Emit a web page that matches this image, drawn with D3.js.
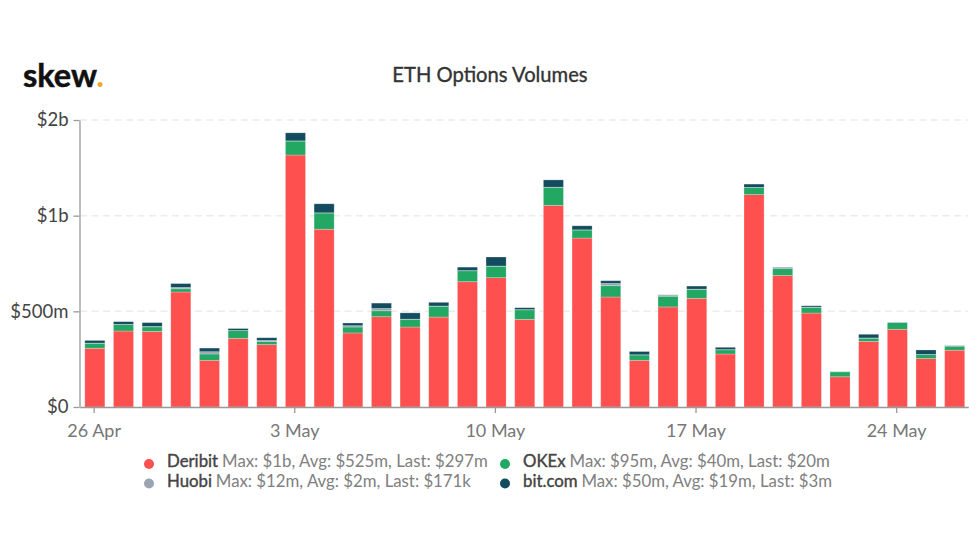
<!DOCTYPE html>
<html>
	<head>
		<meta charset="utf-8">
		<title>ETH Options Volumes</title>
		<script src="https://d3js.org/d3.v7.min.js"></script>
		<style>
			body { margin: 0; background: #fff; }
			text { font-family: Lato, sans-serif; }
		</style>
	</head>
	<body>

		<svg width="980" height="547"></svg>

		<script>
			// values in $m
			var days = ["26 Apr", "27 Apr", "28 Apr", "29 Apr", "30 Apr", "1 May", "2 May", "3 May", "4 May", "5 May", "6 May",
				"7 May", "8 May", "9 May", "10 May", "11 May", "12 May", "13 May", "14 May", "15 May", "16 May",
				"17 May", "18 May", "19 May", "20 May", "21 May", "22 May", "23 May", "24 May", "25 May", "26 May"];
			var deribit = [307, 397, 395, 601, 244, 359, 326, 1317, 929, 387, 472, 418, 470, 655, 676, 458, 1054, 883, 575, 244, 523, 568, 277, 1110, 688, 491, 158, 343, 406, 253, 297];
			var okex = [26, 34, 24, 17, 33, 40, 17, 73, 85, 31, 31, 40, 57, 57, 60, 50, 94, 42, 59, 28, 56, 47, 22, 37, 35, 30, 26, 17, 35, 21, 20];
			var huobi = [1, 1, 2, 7, 12, 1, 5, 1, 1, 7, 12, 1, 1, 1, 1, 1, 1, 1, 12, 1, 5, 1, 1, 1, 2, 1, 1, 1, 1, 1, 0.171];
			var bitcom = [14, 14, 20, 20, 19, 10, 14, 42, 47, 14, 28, 33, 19, 18, 47, 10, 38, 21, 14, 17, 2, 16, 12, 17, 4, 7, 1, 19, 1, 23, 3];

			var seriesNames = ["Deribit", "OKEx", "Huobi", "bit.com"];
			var seriesColors = ["#ff5050", "#22a863", "#9aa5b1", "#134b5f"];
			var legendStats = ["Max: $1b, Avg: $525m, Last: $297m", "Max: $95m, Avg: $40m, Last: $20m", "Max: $12m, Avg: $2m, Last: $171k", "Max: $50m, Avg: $19m, Last: $3m"];

			var xTicks = ["26 Apr", "3 May", "10 May", "17 May", "24 May"];
			var yTicks = [0, 500, 1000, 1500];
			var yTickLabels = ["$0", "$500m", "$1b", "$2b"]; // the 1.5b tick really is rounded up like this

			var svg = d3.select("svg");

			var rows = days.map(function(d, i) {
				return { day: d, Deribit: deribit[i], OKEx: okex[i], Huobi: huobi[i], "bit.com": bitcom[i] };
			});

			var x = d3.scaleBand().domain(days).range([80.5, 969]).paddingInner(0.3).paddingOuter(0.15);
			var y = d3.scaleLinear().domain([0, 1500]).range([407, 120]);
			var z = d3.scaleOrdinal().domain(seriesNames).range(seriesColors);

			// grid
			svg.append("g").selectAll("line")
				.data(yTicks.slice(1))
				.enter().append("line")
				.attr("x1", 80).attr("x2", 968)
				.attr("y1", function(d) { return y(d); })
				.attr("y2", function(d) { return y(d); })
				.attr("stroke", "#ececec")
				.attr("stroke-width", 1.5)
				.attr("stroke-dasharray", "7,4.5");

			// bars
			svg.append("g").selectAll("g")
				.data(d3.stack().keys(seriesNames)(rows))
				.enter().append("g")
				.attr("fill", function(d) { return z(d.key); })
				.selectAll("rect")
				.data(function(d) { return d; })
				.enter().append("rect")
				.attr("x", function(d) { return x(d.data.day); })
				.attr("width", x.bandwidth())
				.attr("y", function(d) { return y(d[1]); })
				.attr("height", function(d) { return y(d[0]) - y(d[1]); })
				.attr("stroke", "#fff")
				.attr("stroke-opacity", 0.3)
				.attr("stroke-width", 0.8);

			// axes
			var yAxis = svg.append("g")
				.attr("transform", "translate(79.5,0)")
				.call(d3.axisLeft(y).tickValues(yTicks).tickSize(6).tickSizeOuter(0)
					.tickFormat(function(d, i) { return yTickLabels[i]; }));
			yAxis.selectAll("text").attr("font-size", 18.5).attr("fill", "#444").attr("x", -11).style("font-family", "Lato");

			var xAxis = svg.append("g")
				.attr("transform", "translate(-0.7,407)")
				.call(d3.axisBottom(x).tickValues(xTicks).tickSize(6).tickSizeOuter(0));
			xAxis.selectAll("text").attr("font-size", 18).attr("fill", "#777").attr("y", 17).style("font-family", "Lato");

			svg.selectAll(".domain, .tick line").attr("stroke", "#999").attr("stroke-width", 1.3);

			// logo and title
			var logo = svg.append("text").attr("x", 23).attr("y", 87)
				.attr("font-size", 32.5).attr("font-weight", 700).attr("fill", "#111")
				.attr("stroke", "#111").attr("stroke-width", 0.5);
			logo.append("tspan").text("skew");
			logo.append("tspan").attr("fill", "#f0a92e").attr("stroke", "none").text(".");

			svg.append("text").attr("x", 490).attr("y", 82)
				.attr("text-anchor", "middle")
				.attr("font-size", 20.2).attr("fill", "#333")
				.attr("stroke", "#333").attr("stroke-width", 0.35)
				.text("ETH Options Volumes");

			// legend
			var legendX = [149, 505], legendY = [463, 482.5];
			var item = svg.append("g").selectAll("g")
				.data([0, 1, 2, 3])
				.enter().append("g")
				.attr("transform", function(d) { return "translate(" + legendX[d % 2] + "," + legendY[d >> 1] + ")"; });

			item.append("circle")
				.attr("r", 5)
				.attr("cy", 1)
				.attr("fill", function(d) { return seriesColors[d]; });

			var label = item.append("text")
				.attr("x", 18)
				.attr("y", 4)
				.attr("font-size", 16.8);
			label.append("tspan").attr("fill", "#444").attr("stroke", "#444").attr("stroke-width", 0.4).text(function(d) { return seriesNames[d]; });
			label.append("tspan").attr("dx", 4).attr("fill", "#808080").text(function(d) { return legendStats[d]; });
		</script>
	</body>
</html>
